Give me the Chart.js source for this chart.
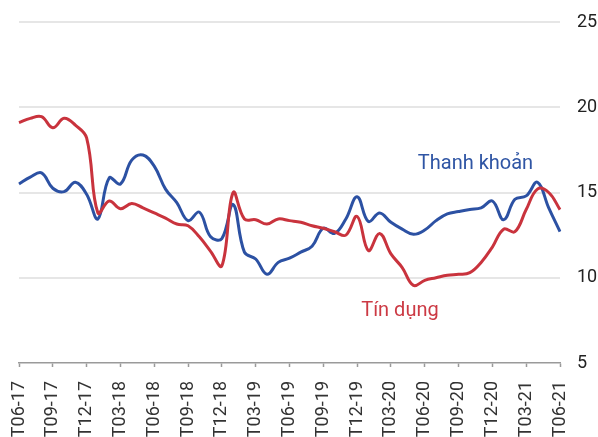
<!DOCTYPE html>
<html>
<head>
<meta charset="utf-8">
<script src="https://cdn.jsdelivr.net/npm/chart.js@4.4.0/dist/chart.umd.min.js"></script>
<style>
  html, body { margin: 0; padding: 0; background: #fff; }
  #wrap { width: 598px; height: 437px; }
</style>
</head>
<body>
<div id="wrap"><canvas id="lineChart"></canvas></div>
<script>
const months = [
  "T06-17", "T07-17", "T08-17", "T09-17", "T10-17", "T11-17", "T12-17",
  "T01-18", "T02-18", "T03-18", "T04-18", "T05-18", "T06-18", "T07-18",
  "T08-18", "T09-18", "T10-18", "T11-18", "T12-18", "T01-19", "T02-19",
  "T03-19", "T04-19", "T05-19", "T06-19", "T07-19", "T08-19", "T09-19",
  "T10-19", "T11-19", "T12-19", "T01-20", "T02-20", "T03-20", "T04-20",
  "T05-20", "T06-20", "T07-20", "T08-20", "T09-20", "T10-20", "T11-20",
  "T12-20", "T01-21", "T02-21", "T03-21", "T04-21", "T05-21", "T06-21",
];

// Thanh khoản (blue)
const liquidity = [
  15.5, 15.9, 16.15, 15.25, 15.05, 15.6, 14.9, 13.45, 15.85, 15.5,
  16.9, 17.2, 16.55, 15.2, 14.4, 13.35, 13.85, 12.4, 12.3, 14.3,
  11.5, 11.1, 10.2, 10.9, 11.15, 11.5, 11.85, 12.9, 12.6, 13.45,
  14.75, 13.3, 13.8, 13.25, 12.85, 12.55, 12.8, 13.35, 13.75, 13.88,
  14.0, 14.1, 14.5, 13.4, 14.6, 14.8, 15.6, 14.1, 12.7,
];

// Tín dụng (red)
const credit = [
  19.1, 19.35, 19.45, 18.8, 19.35, 18.95, 18.2, 13.8, 14.5, 14.05,
  14.35, 14.1, 13.8, 13.5, 13.15, 13.05, 12.4, 11.55, 10.7, 15.0,
  13.45, 13.4, 13.15, 13.45, 13.35, 13.25, 13.05, 12.9, 12.7, 12.5,
  13.6, 11.6, 12.6, 11.4, 10.6, 9.55, 9.85, 10.0, 10.15, 10.2,
  10.3, 10.9, 11.8, 12.85, 12.7, 14.0, 15.2, 15.0, 14.0,
];

const yTicks = [5, 10, 15, 20, 25];

// series name labels: [text, month index, value, colour]
const seriesLabels = [
  ["Thanh khoản", 40.5, 16.35, "#2f55a4"],
  ["Tín dụng", 33.8, 7.75, "#cc3a44"],
];

const blue = "#2c51a3";
const red = "#c9333d";

const seriesText = {
  id: "seriesText",
  afterDatasetsDraw(chart) {
    const { ctx, scales } = chart;
    ctx.save();
    ctx.font = "20px Roboto";
    ctx.textAlign = "center";
    ctx.textBaseline = "alphabetic";
    seriesLabels.forEach(([text, idx, val, color]) => {
      ctx.fillStyle = color;
      ctx.fillText(text, scales.x.getPixelForValue(idx), scales.y.getPixelForValue(val));
    });
    ctx.restore();
  },
};

const ctx = document.getElementById("lineChart").getContext("2d");

new Chart(ctx, {
  type: "line",
  data: {
    labels: months,
    datasets: [
      {
        label: "Tín dụng",
        data: credit,
        borderColor: red,
        borderWidth: 3,
        pointRadius: 0,
        tension: 0.4,
        fill: false,
      },
      {
        label: "Thanh khoản",
        data: liquidity,
        borderColor: blue,
        borderWidth: 3,
        pointRadius: 0,
        tension: 0.4,
        fill: false,
      },
    ],
  },
  plugins: [seriesText],
  options: {
    responsive: true,
    maintainAspectRatio: false,
    animation: false,
    layout: { padding: { left: 19, top: 22, right: 0, bottom: 0 } },
    plugins: {
      legend: { display: false },
      tooltip: { enabled: false },
    },
    scales: {
      x: {
        offset: false,
        grid: {
          drawOnChartArea: false,
          drawTicks: true,
          tickLength: 4,
          tickColor: (c) => (c.index % 3 === 0 ? "#9a9a9a" : "rgba(0,0,0,0)"),
          tickWidth: 1.5,
        },
        border: { display: true, color: "#9a9a9a", width: 1.5 },
        ticks: {
          autoSkip: false,
          minRotation: 90,
          maxRotation: 90,
          padding: 14,
          color: "#333",
          font: { family: "Roboto", size: 18 },
          callback: function (value, index) {
            return index % 3 === 0 ? months[index] : "";
          },
        },
        afterFit: (scale) => {
          scale.height = 74;
          scale.paddingLeft = 0;
          scale.paddingRight = 0;
        },
      },
      y: {
        position: "right",
        min: 5,
        max: 25,
        afterBuildTicks: (scale) => {
          scale.ticks = yTicks.map((v) => ({ value: v }));
        },
        grid: {
          drawTicks: false,
          lineWidth: 2,
          color: (c) => (c.tick && c.tick.value === 5 ? "rgba(0,0,0,0)" : "#e6e6e6"),
        },
        border: { display: false },
        ticks: {
          padding: 17,
          color: "#222",
          font: { family: "Roboto", size: 18 },
        },
        afterFit: (scale) => {
          scale.width = 38;
          scale.paddingTop = 0;
          scale.paddingBottom = 0;
        },
      },
    },
  },
});
</script>
</body>
</html>
